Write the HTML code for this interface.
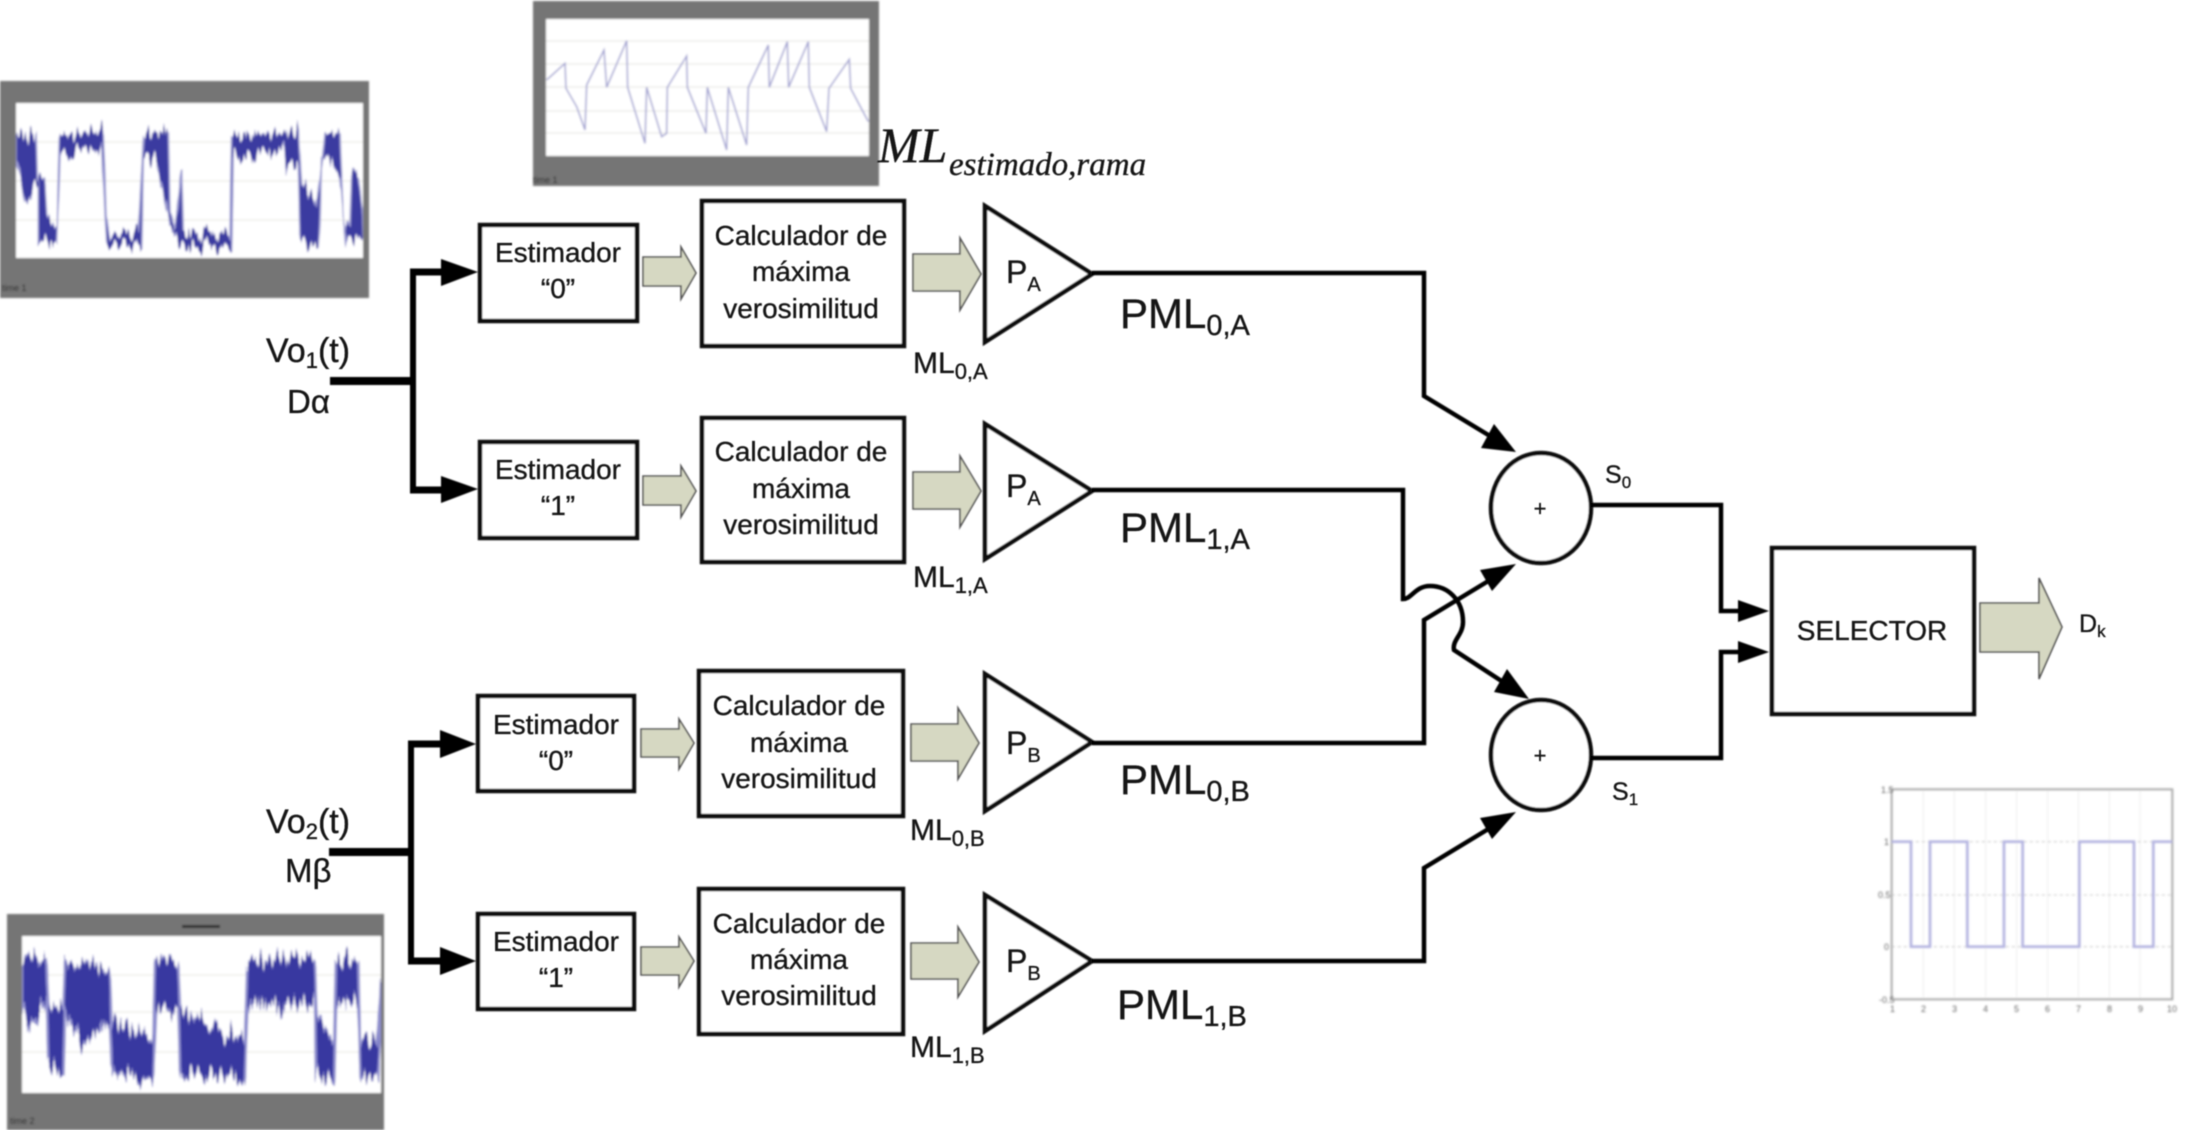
<!DOCTYPE html>
<html><head><meta charset="utf-8"><title>Diagrama de bloques</title>
<style>
html,body{margin:0;padding:0;background:#fff;width:2193px;height:1130px;overflow:hidden}
svg{display:block}
text{font-family:"Liberation Sans",sans-serif;fill:#161616}
.tx text{stroke:#161616;stroke-width:.35}
.e{font-size:28px;text-anchor:middle}
.p{font-size:32px}
.ps{font-size:20px}
.m{font-size:30px}
.ms{font-size:22px}
.b{font-size:42px}
.bs{font-size:29px}
.t{font-size:9px;fill:#666}
</style></head><body>
<svg width="2193" height="1130" viewBox="0 0 2193 1130" xmlns="http://www.w3.org/2000/svg">
<defs>
<filter id="f1" filterUnits="userSpaceOnUse" x="0" y="0" width="2193" height="1130"><feGaussianBlur stdDeviation="0.8"/></filter>
<filter id="f2" filterUnits="userSpaceOnUse" x="0" y="0" width="2193" height="1130"><feGaussianBlur stdDeviation="1.1"/></filter>
<filter id="f3" filterUnits="userSpaceOnUse" x="0" y="0" width="2193" height="1130"><feGaussianBlur stdDeviation="0.55"/></filter>
<filter id="n1" filterUnits="userSpaceOnUse" x="0" y="0" width="2193" height="1130" color-interpolation-filters="sRGB">
<feTurbulence type="fractalNoise" baseFrequency="0.3 0.015" numOctaves="2" seed="3" result="t"/>
<feColorMatrix in="t" type="matrix" values="0 0 0 0 .5  0 1 0 0 0  0 0 0 0 0  0 0 0 0 1" result="c"/>
<feDisplacementMap in="SourceGraphic" in2="c" scale="32" xChannelSelector="R" yChannelSelector="G"/>
</filter>
<filter id="n2" filterUnits="userSpaceOnUse" x="0" y="0" width="2193" height="1130" color-interpolation-filters="sRGB">
<feTurbulence type="fractalNoise" baseFrequency="0.3 0.015" numOctaves="2" seed="8" result="t"/>
<feColorMatrix in="t" type="matrix" values="0 0 0 0 .5  0 1 0 0 0  0 0 0 0 0  0 0 0 0 1" result="c"/>
<feDisplacementMap in="SourceGraphic" in2="c" scale="45" xChannelSelector="R" yChannelSelector="G"/>
</filter>
</defs>
<rect width="2193" height="1130" fill="#fff"/>

<g filter="url(#f2)">
<!-- plot 1 -->
<rect x="0" y="81" width="369" height="217" fill="#757575"/>
<rect x="16" y="103" width="347" height="155" fill="#fff"/>
<g stroke="#e6e6e0" stroke-width="1" fill="none"><path d="M16,142H363M16,181H363M16,220H363"/></g>
<text class="t" x="2" y="291" style="fill:#222">time 1</text>
<clipPath id="c1"><rect x="16" y="103" width="347" height="155"/></clipPath>
<g clip-path="url(#c1)">
<g filter="url(#n1)">
<polygon transform="translate(0,70) scale(0.3333)" fill="#3a3aa0" stroke="#9a9ad2" stroke-width="5" points="48,200 108,190 112,320 135,340 140,440 172,480 178,200 310,180 318,430 330,490 415,490 420,400 432,190 505,185 510,430 525,490 545,300 550,490 690,490 695,200 895,185 905,340 950,400 965,290 975,190 1020,190 1030,440 1050,480 1055,320 1075,300 1088,430 1090,510 1040,515 1020,330 990,280 965,260 960,440 955,520 935,520 900,500 895,290 860,290 850,230 700,270 695,530 550,530 530,515 510,480 490,360 470,270 430,260 425,530 320,520 305,240 240,240 180,260 170,525 145,520 115,510 115,340 100,340 90,380 75,400 48,270"/>
</g>
</g>

<!-- plot 2 -->
<rect x="533" y="1" width="346" height="185" fill="#757575"/>
<rect x="546" y="19" width="323" height="137" fill="#fff"/>
<g stroke="#e4e4e0" stroke-width="1" fill="none"><path d="M546,41H869M546,64H869M546,87H869M546,111H869M546,133H869"/></g>
<text class="t" x="533" y="183" style="fill:#222">time 1</text>
<polyline transform="translate(530,0) scale(0.3333)" fill="none" stroke="#a0a0d0" stroke-width="4.5" points="50,240 105,190 108,265 140,320 165,390 170,255 222,150 230,262 290,122 293,262 345,430 350,262 395,410 410,400 412,262 470,168 472,262 528,400 532,262 590,450 595,262 650,435 655,262 715,135 718,262 772,125 776,262 835,125 838,262 890,395 897,265 958,178 962,265 1015,365"/>

<!-- plot 3 -->
<rect x="7" y="914" width="377" height="216" fill="#757575"/>
<rect x="22" y="936" width="359" height="157" fill="#fff"/>
<rect x="182" y="925" width="38" height="3" fill="#333"/>
<g stroke="#e6e6e0" stroke-width="1" fill="none"><path d="M22,975H381M22,1012H381M22,1052H381"/></g>
<text class="t" x="10" y="1124" style="fill:#222">time 2</text>
<clipPath id="c3"><rect x="22" y="936" width="359" height="157"/></clipPath>
<g clip-path="url(#c3)">
<g filter="url(#n2)">
<polygon transform="translate(0,910) scale(0.3333)" fill="#3838a0" stroke="#8f8fcf" stroke-width="8" stroke-linejoin="round" points="66,150 140,150 145,290 190,300 195,160 330,180 335,340 460,390 465,150 535,145 540,300 735,390 742,150 945,145 950,320 1003,400 1008,145 1075,150 1080,390 1130,400 1143,250 1143,330 1135,500 1082,500 1075,280 1008,270 1003,510 948,490 945,280 742,280 735,500 540,490 535,290 468,300 460,510 335,480 330,320 240,400 195,300 190,500 145,470 140,260 100,350 66,300"/>
</g>
</g>

<!-- plot 4 -->
<g transform="translate(1850,770) scale(0.3333)" fill="none">
<g stroke="#eeeeee" stroke-width="3"><path d="M220,58V688M313,58V688M407,58V688M500,58V688M593,58V688M685,58V688M778,58V688M870,58V688"/></g>
<g stroke="#d8d8d8" stroke-width="4" stroke-dasharray="10 8"><path d="M125,215H967M125,375H967M125,530H967"/></g>
<rect x="125" y="58" width="842" height="630" stroke="#aaaaaa" stroke-width="6"/>
<polyline stroke="#b4b4e0" stroke-width="8" points="125,215 183,215 183,530 240,530 240,215 352,215 352,530 462,530 462,215 518,215 518,530 688,530 688,215 852,215 852,530 910,530 910,215 967,215"/>
</g>
<g class="x">
<text class="t" x="1881" y="793">1.5</text><text class="t" x="1884" y="845">1</text><text class="t" x="1878" y="898">0.5</text><text class="t" x="1884" y="950">0</text><text class="t" x="1879" y="1003">-0.5</text>
<text class="t" x="1890" y="1012">1</text><text class="t" x="1921" y="1012">2</text><text class="t" x="1952" y="1012">3</text><text class="t" x="1983" y="1012">4</text><text class="t" x="2014" y="1012">5</text><text class="t" x="2045" y="1012">6</text><text class="t" x="2076" y="1012">7</text><text class="t" x="2107" y="1012">8</text><text class="t" x="2138" y="1012">9</text><text class="t" x="2167" y="1012">10</text>
</g>
</g>

<g filter="url(#f1)">
<!-- input trees -->
<g fill="none" stroke="#000" stroke-linejoin="miter">
<path d="M330,381H413" stroke-width="8"/>
<path d="M413,381V272M413,381V490" stroke-width="6"/>
<path d="M410,272H445M410,490H445" stroke-width="7"/>
<path d="M329,852H411" stroke-width="8"/>
<path d="M411,852V744M411,852V961" stroke-width="6"/>
<path d="M408,744H444M408,961H444" stroke-width="7"/>
</g>
<g fill="#000">
<polygon points="441,259 478,272 441,286"/>
<polygon points="441,476 478,489 441,503"/>
<polygon points="440,730 476,744 440,758"/>
<polygon points="440,947 476,961 440,975"/>
</g>

<!-- boxes -->
<g fill="#fff" stroke="#111" stroke-width="4.5">
<rect x="480" y="225" width="157" height="96"/>
<rect x="480" y="442" width="157" height="96"/>
<rect x="478" y="696" width="156" height="95"/>
<rect x="478" y="914" width="156" height="95"/>
<rect x="702" y="201" width="202" height="145"/>
<rect x="702" y="418" width="202" height="144"/>
<rect x="699" y="671" width="204" height="145"/>
<rect x="699" y="889" width="204" height="145"/>
<polygon points="985,206 1092,274 985,342"/>
<polygon points="985,424 1092,491 985,559"/>
<polygon points="985,674 1092,742 985,811"/>
<polygon points="985,895 1092,961 985,1031"/>
<rect x="1772" y="548" width="202" height="166"/>
<ellipse cx="1541" cy="508" rx="50" ry="55"/>
<ellipse cx="1541" cy="755" rx="50" ry="55"/>
</g>

<!-- fat arrows -->
<g fill="#d6d8c2" stroke="#555" stroke-width="1.6" stroke-linejoin="miter">
<polygon points="643,257 681,257 681,247 696,273 681,299 681,286 643,286"/>
<polygon points="643,476 681,476 681,466 696,491 681,517 681,505 643,505"/>
<polygon points="641,729 679,729 679,719 694,743 679,769 679,757 641,757"/>
<polygon points="641,947 679,947 679,937 694,961 679,987 679,975 641,975"/>
<polygon points="913,254 960,254 960,238 981,274 960,310 960,291 913,291"/>
<polygon points="913,472 960,472 960,456 981,491 960,527 960,509 913,509"/>
<polygon points="911,724 958,724 958,708 979,743 958,779 958,761 911,761"/>
<polygon points="911,943 958,943 958,927 979,962 958,997 958,979 911,979"/>
<polygon points="1980,603 2039,603 2039,578 2062,627 2039,679 2039,652 1980,652"/>
</g>

<!-- output lines -->
<g fill="none" stroke="#000" stroke-width="4.5" stroke-linejoin="miter">
<path d="M1092,273H1424V396L1490,436"/>
<path d="M1092,490H1403V599C1412,599 1415,586 1430,586C1448,586 1463,600 1463,622C1463,635 1452,640 1454,650L1503,682"/>
<path d="M1092,743H1424V620L1490,580"/>
<path d="M1092,961H1424V868L1490,828"/>
<path d="M1591,505H1721V611H1742"/>
<path d="M1591,758H1721V652H1742"/>
</g>
<g fill="#000">
<polygon points="1516,452 1481,448 1494,424"/>
<polygon points="1516,564 1492,591 1480,570"/>
<polygon points="1529,699 1494,692 1507,669"/>
<polygon points="1516,812 1492,839 1480,818"/>
<polygon points="1738,600 1769,611 1738,622"/>
<polygon points="1738,641 1769,652 1738,663"/>
</g>
</g>

<!-- text -->
<g class="tx" filter="url(#f3)">
<text class="e" x="558" y="262">Estimador</text><text class="e" x="558" y="298">“0”</text>
<text class="e" x="558" y="479">Estimador</text><text class="e" x="558" y="515">“1”</text>
<text class="e" x="556" y="734">Estimador</text><text class="e" x="556" y="770">“0”</text>
<text class="e" x="556" y="951">Estimador</text><text class="e" x="556" y="987">“1”</text>

<text class="e" x="801" y="245">Calculador de</text><text class="e" x="801" y="281">máxima</text><text class="e" x="801" y="318">verosimilitud</text>
<text class="e" x="801" y="461">Calculador de</text><text class="e" x="801" y="498">máxima</text><text class="e" x="801" y="534">verosimilitud</text>
<text class="e" x="799" y="715">Calculador de</text><text class="e" x="799" y="752">máxima</text><text class="e" x="799" y="788">verosimilitud</text>
<text class="e" x="799" y="933">Calculador de</text><text class="e" x="799" y="969">máxima</text><text class="e" x="799" y="1005">verosimilitud</text>

<text class="p" x="1006" y="283">P<tspan class="ps" dy="8">A</tspan></text>
<text class="p" x="1006" y="497">P<tspan class="ps" dy="8">A</tspan></text>
<text class="p" x="1006" y="754">P<tspan class="ps" dy="8">B</tspan></text>
<text class="p" x="1006" y="972">P<tspan class="ps" dy="8">B</tspan></text>

<text class="m" x="913" y="373">ML<tspan class="ms" dy="6">0,A</tspan></text>
<text class="m" x="913" y="587">ML<tspan class="ms" dy="6">1,A</tspan></text>
<text class="m" x="910" y="840">ML<tspan class="ms" dy="6">0,B</tspan></text>
<text class="m" x="910" y="1057">ML<tspan class="ms" dy="6">1,B</tspan></text>

<text class="b" x="1120" y="328">PML<tspan class="bs" dy="7">0,A</tspan></text>
<text class="b" x="1120" y="542">PML<tspan class="bs" dy="7">1,A</tspan></text>
<text class="b" x="1120" y="794">PML<tspan class="bs" dy="7">0,B</tspan></text>
<text class="b" x="1117" y="1019">PML<tspan class="bs" dy="7">1,B</tspan></text>

<text x="266" y="362" style="font-size:34px">Vo<tspan style="font-size:22px" dy="6">1</tspan><tspan dy="-6">(t)</tspan></text>
<text x="287" y="413" style="font-size:33px">Dα</text>
<text x="266" y="833" style="font-size:34px">Vo<tspan style="font-size:22px" dy="6">2</tspan><tspan dy="-6">(t)</tspan></text>
<text x="285" y="882" style="font-size:33px">Mβ</text>

<text x="1540" y="516" style="font-size:22px" text-anchor="middle">+</text>
<text x="1540" y="763" style="font-size:22px" text-anchor="middle">+</text>
<text x="1605" y="483" style="font-size:25px">S<tspan style="font-size:17px" dy="5">0</tspan></text>
<text x="1612" y="800" style="font-size:25px">S<tspan style="font-size:17px" dy="5">1</tspan></text>
<text x="1872" y="640" style="font-size:28px" text-anchor="middle">SELECTOR</text>
<text x="2079" y="632" style="font-size:25px">D<tspan style="font-size:17px" dy="5">k</tspan></text>

<text x="878" y="162" style="font-family:'Liberation Serif',serif;font-style:italic;font-size:50px">ML</text>
<text x="949" y="175" style="font-family:'Liberation Serif',serif;font-style:italic;font-size:33px">estimado,rama</text>
</g>
</svg>
</body></html>
